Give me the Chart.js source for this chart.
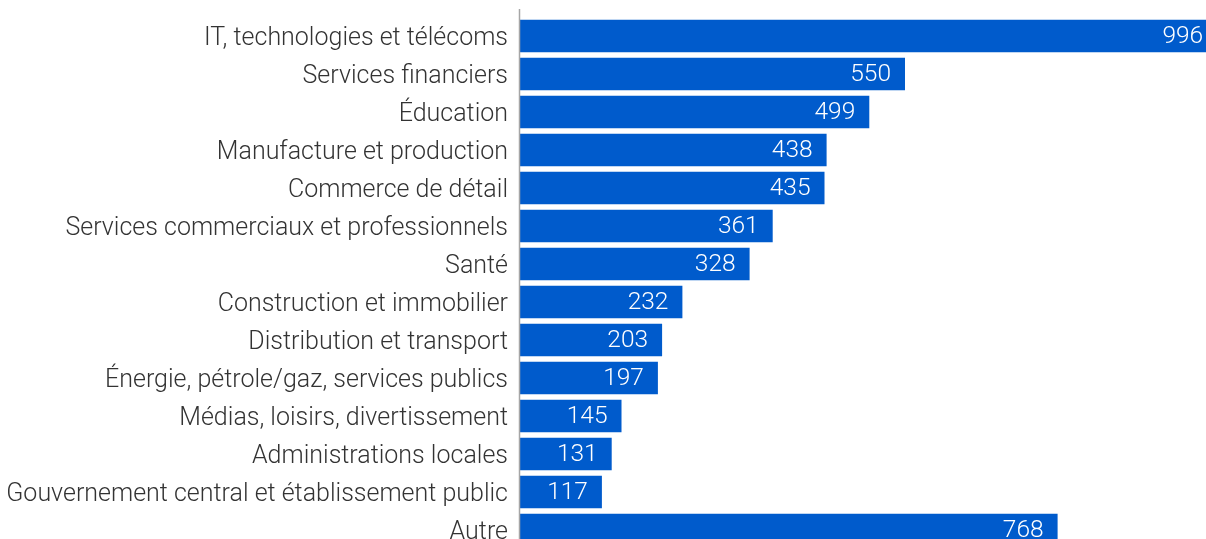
<!DOCTYPE html>
<html>
<head>
<meta charset="utf-8">
<script src="https://cdn.jsdelivr.net/npm/chart.js@4/dist/chart.umd.min.js"></script>
<style>
  html, body { margin: 0; padding: 0; overflow: hidden; background: #fff; }
  canvas { position: absolute; left: 0; top: 0; }
</style>
</head>
<body>
<canvas id="secteurs" width="1220" height="549"></canvas>
<script>
// Répartition par secteur d'activité
const secteurs = [
    'IT, technologies et télécoms',
    'Services financiers',
    'Éducation',
    'Manufacture et production',
    'Commerce de détail',
    'Services commerciaux et professionnels',
    'Santé',
    'Construction et immobilier',
    'Distribution et transport',
    'Énergie, pétrole/gaz, services publics',
    'Médias, loisirs, divertissement',
    'Administrations locales',
    'Gouvernement central et établissement public',
    'Autre'
];
const valeurs = [996, 550, 499, 438, 435, 361, 328, 232, 203, 197, 145, 131, 117, 768];
const xMax = 1000;

const FONT = "Roboto, 'DejaVu Sans', sans-serif";

// Valeurs écrites en blanc au bout de chaque barre
const etiquettes = {
    id: 'etiquettes',
    afterDatasetsDraw(chart) {
        const ctx = chart.ctx;
        const meta = chart.getDatasetMeta(0);
        ctx.save();
        ctx.font = '300 24.5px ' + FONT;
        ctx.fillStyle = '#ffffff';
        ctx.textAlign = 'right';
        ctx.textBaseline = 'middle';
        meta.data.forEach((bar, i) => {
            ctx.fillText(String(valeurs[i]), bar.x - 14, bar.y + 1);
        });
        ctx.restore();
    }
};

// Trait vertical de l'axe, qui dépasse un peu au-dessus de la première barre
const axe = {
    id: 'axe',
    afterDraw(chart) {
        const ctx = chart.ctx;
        const a = chart.chartArea;
        ctx.save();
        ctx.strokeStyle = '#a6a6a6';
        ctx.lineWidth = 1.5;
        ctx.beginPath();
        ctx.moveTo(a.left - 0.5, a.top - 8);
        ctx.lineTo(a.left - 0.5, a.bottom);
        ctx.stroke();
        ctx.restore();
    }
};

const chart = new Chart(document.getElementById('secteurs').getContext('2d'), {
    type: 'bar',
    data: {
        labels: secteurs,
        datasets: [{
            data: valeurs,
            backgroundColor: '#005bcc',
            borderWidth: 0,
            barPercentage: 0.86,
            categoryPercentage: 1
        }]
    },
    options: {
        indexAxis: 'y',
        responsive: false,
        animation: false,
        layout: { padding: { top: 17, left: 0, right: 0, bottom: 0 } },
        plugins: {
            legend: { display: false },
            tooltip: { enabled: false }
        },
        scales: {
            x: { display: false, min: 0, max: xMax },
            y: {
                grid: { display: false, drawTicks: false },
                border: { display: false },
                afterFit(scale) {
                    scale.width = 520;
                    scale.paddingTop = 0;
                    scale.paddingBottom = 0;
                },
                ticks: {
                    color: '#333333',
                    padding: 12,
                    labelOffset: 3,
                    font: { family: FONT, size: 25, weight: 300 }
                }
            }
        }
    },
    plugins: [etiquettes, axe]
});
</script>
</body>
</html>
